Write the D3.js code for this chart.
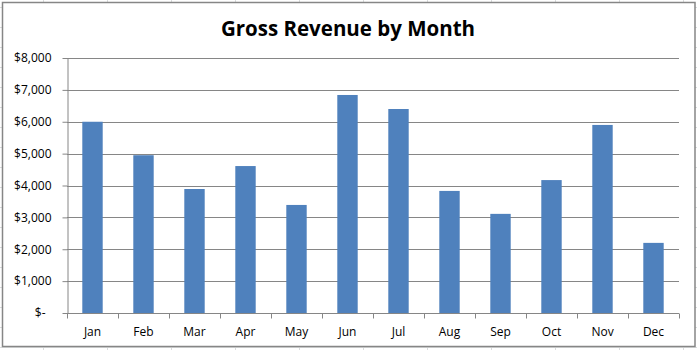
<!DOCTYPE html>
<html>
<head>
<meta charset="utf-8">
<script src="https://cdn.jsdelivr.net/npm/d3@7"></script>
<style>
  html, body { margin: 0; padding: 0; background: #fff; }
  svg { display: block; }
</style>
</head>
<body>
<svg id="chart" width="697" height="350"></svg>
<script>
// Monthly gross revenue
const months = ["Jan","Feb","Mar","Apr","May","Jun","Jul","Aug","Sep","Oct","Nov","Dec"];
const revenue = [6000, 4950, 3890, 4610, 3390, 6840, 6400, 3830, 3110, 4170, 5900, 2200];
const yTicks = [0, 1000, 2000, 3000, 4000, 5000, 6000, 7000, 8000];
const titleText = "Gross Revenue by Month";

const W = 697, H = 350;
const svg = d3.select("#chart");
const font = "'Open Sans', 'Liberation Sans', sans-serif";

// faint worksheet cell lines behind the chart object
const sheet = svg.append("g").attr("stroke", "#dadcdd").attr("stroke-width", 1);
d3.range(43, W, 64).forEach(x => sheet.append("line").attr("x1", x + 0.5).attr("x2", x + 0.5).attr("y1", 0).attr("y2", H));
d3.range(7, H, 20).forEach(y => sheet.append("line").attr("x1", 0).attr("x2", W).attr("y1", y + 0.5).attr("y2", y + 0.5));

// chart area
svg.append("rect")
  .attr("x", 2.5).attr("y", 2.5).attr("width", 692.5).attr("height", 344)
  .attr("fill", "#fff").attr("stroke", "#868686").attr("stroke-width", 1.5);

const plot = { left: 67, right: 679, top: 58, bottom: 313 };

const x = d3.scaleBand().domain(months).range([plot.left, plot.right]).paddingInner(0.6).paddingOuter(0.3);
const xOuter = d3.scaleBand().domain(months).range([plot.left, plot.right]);
const y = d3.scaleLinear().domain([0, 8000]).range([plot.bottom, plot.top]);

// gridlines
svg.append("g").selectAll("line").data(yTicks.filter(d => d > 0)).join("line")
  .attr("x1", plot.left).attr("x2", plot.right)
  .attr("y1", d => Math.round(y(d)) + 0.5).attr("y2", d => Math.round(y(d)) + 0.5)
  .attr("stroke", "#868686").attr("stroke-width", 1);

// bars
svg.append("g").selectAll("rect").data(months).join("rect")
  .attr("x", d => x(d))
  .attr("width", x.bandwidth())
  .attr("y", (d, i) => y(revenue[i]))
  .attr("height", (d, i) => plot.bottom - y(revenue[i]))
  .attr("fill", "#4f81bd");

// y axis
const fmt = v => v === 0 ? "$-" : "$" + d3.format(",")(v);
const yAxis = svg.append("g").attr("transform", `translate(${plot.left + 0.5},0)`)
  .call(d3.axisLeft(y).tickValues(yTicks).tickFormat(fmt).tickSize(5).tickSizeOuter(0).tickPadding(11));
yAxis.select(".domain").attr("stroke", "#868686");
yAxis.selectAll(".tick line").attr("stroke", "#868686");
yAxis.selectAll(".tick text").attr("fill", "#000").style("font-family", font).style("font-size", "12px")
  .attr("dx", d => d === 0 ? -6 : 0);

// x axis with ticks on category boundaries
const xAxis = svg.append("g").attr("transform", `translate(0,${plot.bottom + 0.5})`);
xAxis.append("line").attr("x1", plot.left).attr("x2", plot.right).attr("stroke", "#868686");
xAxis.selectAll("line.tk").data(months.concat(["end"])).join("line").attr("class", "tk")
  .attr("x1", (d, i) => Math.round(plot.left + i * xOuter.step()) + 0.5)
  .attr("x2", (d, i) => Math.round(plot.left + i * xOuter.step()) + 0.5)
  .attr("y1", 0).attr("y2", 5).attr("stroke", "#868686");
xAxis.selectAll("text").data(months).join("text")
  .attr("x", d => xOuter(d) + xOuter.bandwidth() / 2)
  .attr("y", 22)
  .attr("text-anchor", "middle")
  .style("font-family", font).style("font-size", "12px").attr("fill", "#000")
  .text(d => d);

// title
svg.append("text")
  .attr("x", 348).attr("y", 36)
  .attr("text-anchor", "middle")
  .style("font-family", font).style("font-size", "20.5px").style("font-weight", "bold")
  .attr("fill", "#000")
  .text(titleText);
</script>
</body>
</html>
